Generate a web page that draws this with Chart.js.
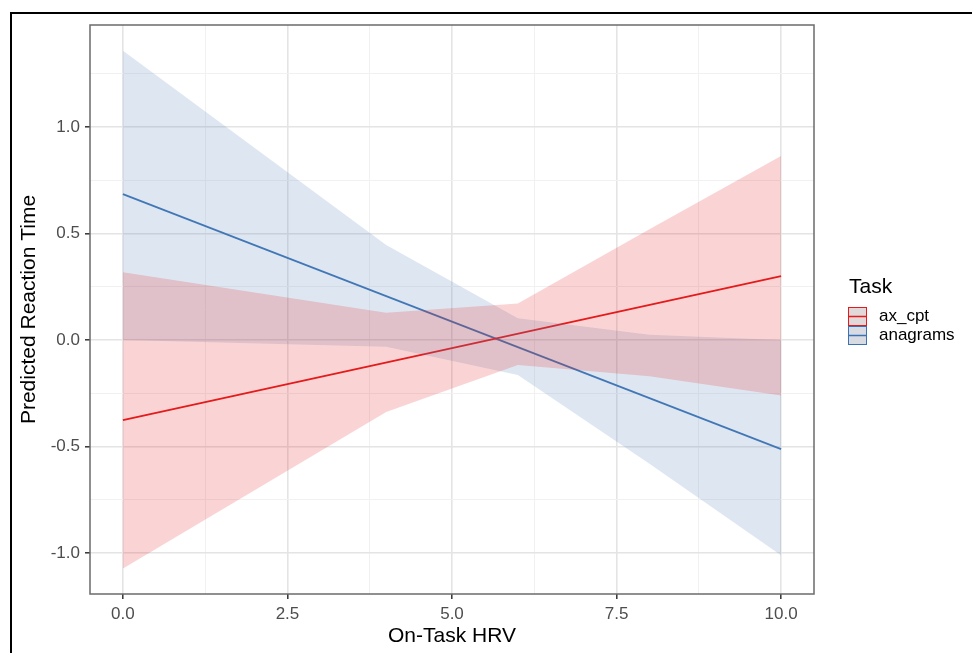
<!DOCTYPE html>
<html>
<head>
<meta charset="utf-8">
<script src="https://cdn.jsdelivr.net/npm/chart.js@4.4.1/dist/chart.umd.min.js"></script>
<style>
  html, body { margin: 0; padding: 0; background: #fff; overflow: hidden; }
  #wrap { position: relative; width: 972px; height: 653px; }
  #frame { position: absolute; left: 10px; top: 12px; width: 2000px; height: 2000px; border: 2px solid #000; box-sizing: border-box; }
  canvas { position: absolute; left: 0; top: 0; }
</style>
</head>
<body>
<div id="wrap">
  <div id="frame"></div>
  <canvas id="c" width="972" height="653"></canvas>
</div>
<script>
// ---- data ----
const ribbonX = [0, 4, 6, 8, 10];
const axCptUpper = [0.319, 0.128, 0.172, 0.520, 0.864];
const axCptLower = [-1.072, -0.338, -0.117, -0.170, -0.260];
const anagramsUpper = [1.358, 0.446, 0.102, 0.025, 0.000];
const anagramsLower = [0.000, -0.031, -0.164, -0.580, -1.010];
const fitX = [0, 10];
const axCptFit = [-0.376, 0.300];
const anagramsFit = [0.685, -0.512];
const seriesNames = ['ax_cpt', 'anagrams'];
const xTicks = [0, 1.25, 2.5, 3.75, 5, 6.25, 7.5, 8.75, 10];
const xMajor = [0, 2.5, 5, 7.5, 10];
const yTicks = [-1, -0.75, -0.5, -0.25, 0, 0.25, 0.5, 0.75, 1, 1.25];
const yMajor = [-1, -0.5, 0, 0.5, 1];

const RED = '#E41A1C', BLUE = '#3A72B5';
const RED_FILL = 'rgba(228,26,28,0.19)', BLUE_FILL = 'rgba(100,140,190,0.21)';
const FONT = "'Liberation Sans', Arial, sans-serif";

function pts(xs, ys) { return xs.map((x, i) => ({ x: x, y: ys[i] })); }
function isMajor(list, v) { return list.some(m => Math.abs(m - v) < 1e-9); }

const panelPlugin = {
  id: 'panel',
  afterDatasetsDraw(chart) {
    const { ctx, chartArea: a } = chart;
    ctx.save();
    ctx.strokeStyle = '#6b6b6b';
    ctx.lineWidth = 1.5;
    ctx.strokeRect(a.left, a.top, a.right - a.left, a.bottom - a.top);
    ctx.restore();
  },
  afterDraw(chart) {
    const { ctx } = chart;
    ctx.save();
    ctx.fillStyle = '#000';
    ctx.font = '21px ' + FONT;
    ctx.textAlign = 'left';
    ctx.textBaseline = 'alphabetic';
    ctx.fillText('Task', 849, 293);
    const keys = [{ c: RED, bg: '#e0d8d9', y: 307 }, { c: BLUE, bg: '#d8dce2', y: 326 }];
    keys.forEach((k, i) => {
      ctx.fillStyle = k.bg;
      ctx.fillRect(848.5, k.y, 18, 18.5);
      ctx.strokeStyle = k.c;
      ctx.lineWidth = 1;
      ctx.strokeRect(848.5, k.y + 0.5, 18, 18);
      ctx.lineWidth = 1.5;
      ctx.beginPath();
      ctx.moveTo(848.5, k.y + 9.5);
      ctx.lineTo(866.5, k.y + 9.5);
      ctx.stroke();
      ctx.fillStyle = '#000';
      ctx.font = '17px ' + FONT;
      ctx.textBaseline = 'middle';
      ctx.fillText(seriesNames[i], 879, k.y + 9.5);
    });
    ctx.restore();
  }
};

new Chart(document.getElementById('c'), {
  type: 'line',
  data: {
    datasets: [
      { data: pts(ribbonX, axCptUpper), fill: '+1', backgroundColor: RED_FILL, borderWidth: 0, pointRadius: 0, tension: 0 },
      { data: pts(ribbonX, axCptLower), fill: false, borderWidth: 0, pointRadius: 0, tension: 0 },
      { data: pts(ribbonX, anagramsUpper), fill: '+1', backgroundColor: BLUE_FILL, borderWidth: 0, pointRadius: 0, tension: 0 },
      { data: pts(ribbonX, anagramsLower), fill: false, borderWidth: 0, pointRadius: 0, tension: 0 },
      { label: seriesNames[0], data: pts(fitX, axCptFit), fill: false, borderColor: RED, borderWidth: 1.8, pointRadius: 0 },
      { label: seriesNames[1], data: pts(fitX, anagramsFit), fill: false, borderColor: BLUE, borderWidth: 1.8, pointRadius: 0 }
    ]
  },
  options: {
    responsive: false,
    animation: false,
    layout: { padding: { left: 14, top: 25, right: 158, bottom: 0 } },
    plugins: { legend: { display: false }, tooltip: { enabled: false } },
    scales: {
      x: {
        type: 'linear', min: -0.5, max: 10.5,
        afterBuildTicks(s) { s.ticks = xTicks.map(v => ({ value: v })); },
        afterFit(s) { s.height = 59; },
        border: { display: false },
        grid: {
          color: c => isMajor(xMajor, c.tick.value) ? '#e4e4e4' : '#f1f1f1',
          lineWidth: c => isMajor(xMajor, c.tick.value) ? 1.6 : 1,
          tickColor: c => isMajor(xMajor, c.tick.value) ? '#333' : 'rgba(0,0,0,0)',
          tickLength: 5, tickWidth: 1.5
        },
        ticks: {
          autoSkip: false, maxRotation: 0, padding: 5, color: '#4d4d4d',
          font: { family: FONT, size: 17 },
          callback: v => isMajor(xMajor, v) ? v.toFixed(1) : ''
        },
        title: { display: true, text: 'On-Task HRV', color: '#000', font: { family: FONT, size: 21 }, padding: { top: 0, bottom: 4 } }
      },
      y: {
        type: 'linear', min: -1.192, max: 1.479,
        afterBuildTicks(s) { s.ticks = yTicks.map(v => ({ value: v })); },
        afterFit(s) { s.width = 76; },
        border: { display: false },
        grid: {
          color: c => isMajor(yMajor, c.tick.value) ? '#e4e4e4' : '#f1f1f1',
          lineWidth: c => isMajor(yMajor, c.tick.value) ? 1.6 : 1,
          tickColor: c => isMajor(yMajor, c.tick.value) ? '#333' : 'rgba(0,0,0,0)',
          tickLength: 5, tickWidth: 1.5
        },
        ticks: {
          autoSkip: false, padding: 5, color: '#4d4d4d',
          font: { family: FONT, size: 17 },
          callback: v => isMajor(yMajor, v) ? v.toFixed(1) : ''
        },
        title: { display: true, text: 'Predicted Reaction Time', color: '#000', font: { family: FONT, size: 21 }, padding: { top: 3, bottom: 0 } }
      }
    }
  },
  plugins: [panelPlugin]
});
</script>
</body>
</html>
